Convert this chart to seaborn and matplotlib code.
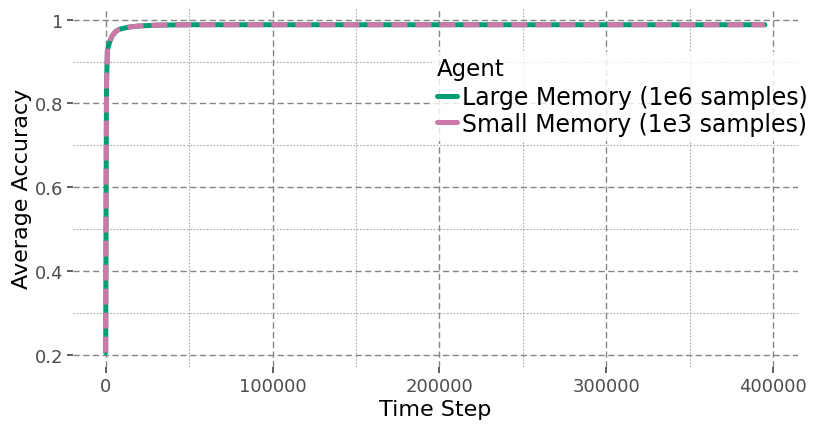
import numpy as np
import pandas as pd
import seaborn as sns
import matplotlib.pyplot as plt
from matplotlib.ticker import MultipleLocator, FuncFormatter

# --- data ---
steps = [0, 250, 500, 1000, 1500, 2500, 4000, 6000, 8000, 11000, 15000, 20000,
         30000, 50000, 75000, 100000, 150000, 200000, 250000, 300000, 350000, 395000]
acc_large = [0.205, 0.60, 0.85, 0.925, 0.935, 0.948, 0.962, 0.972, 0.977, 0.980,
             0.983, 0.985, 0.987, 0.988, 0.988, 0.988, 0.988, 0.988, 0.988, 0.988,
             0.988, 0.988]
acc_small = [0.205, 0.60, 0.85, 0.925, 0.936, 0.950, 0.963, 0.972, 0.977, 0.980,
             0.983, 0.985, 0.987, 0.988, 0.988, 0.988, 0.988, 0.988, 0.988, 0.988,
             0.988, 0.988]
agents = ['Large Memory (1e6 samples)', 'Small Memory (1e3 samples)']
colors = ['#009E73', '#CC79A7']

df = pd.concat([
    pd.DataFrame({'Time Step': steps, 'Average Accuracy': acc_large, 'Agent': agents[0]}),
    pd.DataFrame({'Time Step': steps, 'Average Accuracy': acc_small, 'Agent': agents[1]}),
])

sns.set_theme(style='white')
plt.rcParams['font.family'] = ['DejaVu Sans']
plt.rcParams['text.color'] = 'black'
plt.rcParams['axes.labelcolor'] = 'black'

fig = plt.figure(figsize=(8.3, 4.31), dpi=100)
ax = fig.add_axes([73 / 830, 1 - 368 / 431, 725 / 830, 359 / 431])

sns.lineplot(data=df, x='Time Step', y='Average Accuracy', hue='Agent', style='Agent',
             palette=dict(zip(agents, colors)), dashes={agents[0]: '', agents[1]: (3.2, 1.6)},
             linewidth=3.6, ax=ax, estimator=None)

ax.set_xlim(-19590, 414800)
ax.set_ylim(0.1706, 1.028)

ax.xaxis.set_major_locator(MultipleLocator(100000))
ax.xaxis.set_minor_locator(MultipleLocator(50000))
ax.yaxis.set_major_locator(MultipleLocator(0.2))
ax.yaxis.set_minor_locator(MultipleLocator(0.1))
ax.yaxis.set_major_formatter(FuncFormatter(lambda v, p: f'{v:g}'))
ax.xaxis.set_major_formatter(FuncFormatter(lambda v, p: f'{v:.0f}'))

ax.grid(True, which='major', color='#858585', linestyle=(0, (4.5, 2.5)), linewidth=1.0)
ax.grid(True, which='minor', color='#aaaaaa', linestyle=(0, (1.5, 1.5)), linewidth=0.8)
ax.set_axisbelow(True)

for s in ax.spines.values():
    s.set_visible(False)
ax.tick_params(which='major', length=4, width=1.1, color='#333333',
               labelsize=13, labelcolor='#4d4d4d', bottom=True, left=True, pad=3)
ax.tick_params(which='minor', length=0)

ax.set_xlabel('Time Step', fontsize=16, color='black', labelpad=3)
ax.set_ylabel('Average Accuracy', fontsize=16, color='black', labelpad=2)

leg = ax.legend(title='Agent', loc='upper left', bbox_to_anchor=(432 / 830, 1 - 53 / 431),
                bbox_transform=fig.transFigure, frameon=True, fontsize=17,
                title_fontsize=16.5, handlelength=0.85, handletextpad=0.2,
                labelspacing=0.1, borderpad=0.2, borderaxespad=0)
leg._legend_box.sep = 4
leg.get_frame().set_facecolor('white')
leg.get_frame().set_edgecolor('white')
leg._legend_box.align = 'left'
for t in leg.get_texts():
    t.set_color('black')
leg.get_title().set_color('black')
for line in leg.get_lines():
    line.set_linestyle('-')
    line.set_linewidth(3.6)

fig.savefig('out.png', dpi=100)
